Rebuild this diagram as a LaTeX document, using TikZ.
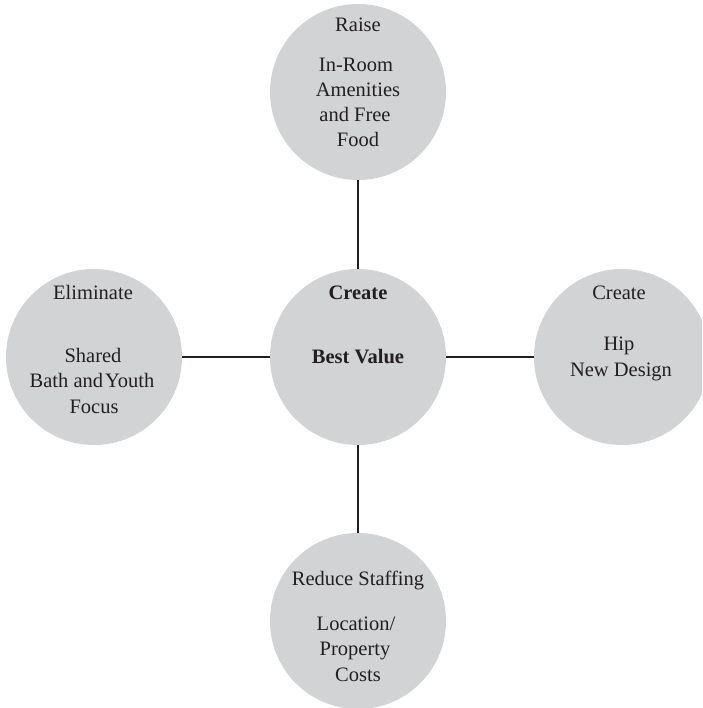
\documentclass[tikz,border=0pt]{standalone}
\usepackage{fontspec}
\setmainfont{Liberation Serif}
\definecolor{discfill}{HTML}{D1D3D4}
\definecolor{inkline}{HTML}{231F20}
\begin{document}
\begin{tikzpicture}[x=1pt,y=-1pt,
  disc/.style={circle,fill=discfill,draw=none,minimum size=176pt,inner sep=0pt},
  link/.style={draw=inkline,line width=2.5pt},
  lbl/.style={anchor=base,inner sep=0pt,text=inkline,font=\fontsize{20.5}{25}\selectfont},
  blbl/.style={lbl,font=\fontsize{20.5}{25}\selectfont\bfseries}]
  \useasboundingbox (0,0) rectangle (702,708);
  \clip (0,0) rectangle (702,708);

  % discs
  \node[disc] (top)    at (358,92)  {};
  \node[disc] (hub)    at (358,357) {};
  \node[disc] (left)   at (94,357)  {};
  \node[disc] (right)  at (622,357) {};
  \node[disc] (bottom) at (358,621) {};

  % spokes
  \draw[link] (top.south) -- (hub.north);
  \draw[link] (left.east) -- (hub.west);
  \draw[link] (hub.east) -- (right.west);
  \draw[link] (hub.south) -- (bottom.north);

  % hub labels
  \node[blbl] (hubA) at (358,299) {Create};
  \node[blbl] (hubB) at (358,363) {Best Value};

  % top labels
  \node[lbl] (topA) at (358,32)  {Raise};
  \node[lbl] (topB) at (356,72)  {In-Room};
  \node[lbl] (topC) at (358,97)  {Amenities};
  \node[lbl] (topD) at (355,122) {and Free};
  \node[lbl] (topE) at (358,147) {Food};

  % left labels
  \node[lbl] (leftA) at (93,299) {Eliminate};
  \node[lbl] (leftB) at (93,362) {Shared};
  \node[lbl] (leftC) at (92,387) {Bath and\kern-0.15em\ Youth};
  \node[lbl] (leftD) at (94,413) {Focus};

  % right labels
  \node[lbl] (rightA) at (619,299) {Create};
  \node[lbl] (rightB) at (619,350) {Hip};
  \node[lbl] (rightC) at (621,376) {New Design};

  % bottom labels
  \node[lbl] (botA) at (358,585) {Reduce Staffing};
  \node[lbl] (botB) at (356,630) {Location/};
  \node[lbl] (botC) at (355,655) {Property};
  \node[lbl] (botD) at (358,681) {Costs};
\end{tikzpicture}
\end{document}
